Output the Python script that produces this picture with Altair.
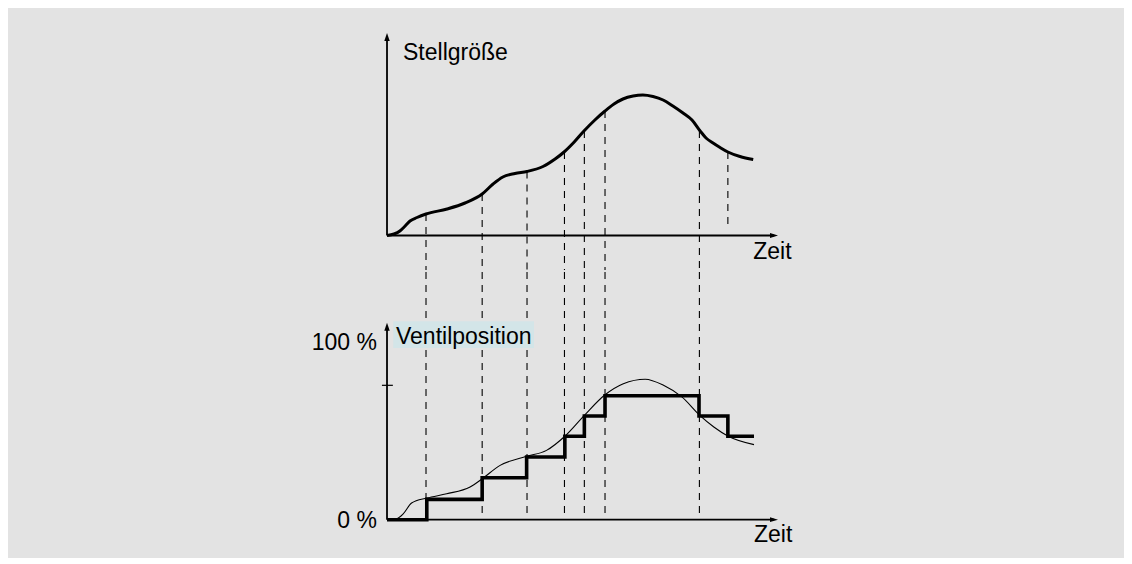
import altair as alt
import pandas as pd

# ---------------- data ----------------
# time axis in arbitrary units (0 = origin, ~100 = arrow tip)
# top panel: Stellgröße (control variable) curve
TOP_T = [0, 1.8, 3.3, 4.4, 5.9, 7.7, 10.0, 15.4, 20.0, 24.4, 27.2, 29.7, 32.8, 35.9,
         40.0, 43.1, 45.4, 48.0, 50.5, 53.3, 55.9, 58.2, 60.5, 63.1, 65.6, 68.2, 70.8,
         73.3, 75.9, 78.2, 80.3, 81.8, 83.6, 85.4, 87.4, 90.5, 93.9]
TOP_S = [0, 0.75, 2.25, 4.25, 7.25, 9.0, 10.75, 13.25, 16.25, 20.75, 25.75, 29.25, 31.0, 32.0,
         34.5, 38.25, 41.75, 46.75, 52.25, 57.75, 62.25, 65.75, 68.25, 69.75, 70.25, 69.5, 67.75,
         64.75, 61.25, 57.75, 52.25, 48.75, 46.25, 44.0, 41.75, 39.5, 38.0]

# bottom panel: thin reference curve (percent)
BOT_T = [0, 2.5, 4.2, 6.3, 10.2, 15.3, 21.3, 24.4, 29.0, 35.8, 40.9, 45.6, 50.6, 55.9,
         60.6, 66.2, 70.9, 75.6, 80.2, 83.8, 87.5, 94.1]
BOT_V = [0, 0.6, 3.4, 9.3, 12.1, 14.5, 18.3, 22.9, 30.4, 35.5, 38.8, 46.7, 58.4, 69.9,
         76.1, 78.6, 75.2, 68.7, 58.4, 51.9, 46.7, 42.0]

# bottom panel: valve position steps (percent)
STEP_T = [0, 10.2, 24.4, 35.8, 45.6, 50.6, 55.9, 80.0, 87.4, 94.1]
STEP_V = [0, 11.4, 23.5, 35.1, 46.7, 58.0, 69.4, 58.0, 46.7, 46.7]

# dashed sampling lines
DASH_T = [10.0, 24.4, 35.9, 45.5, 50.6, 55.9, 80.1, 87.4]
DASH_S_START = [10.75, 20.75, 32.0, 41.75, 52.25, 62.25, 52.25, 41.75]
DASH_S_END = [None, None, None, None, None, None, None, 4.4]   # None = continues to lower panel

# axes extents
TOP_X_END, TOP_Y_END = 100.26, 101.25
BOT_X_END, BOT_Y_END = 100.26, 110.2
BOT_TICK_V = 75.2

# labels
TOP_LABELS = ["Stellgröße", "Zeit"]
TOP_LABELS_T = [4.1, 93.9]
TOP_LABELS_S = [88.0, -11.9]
BOT_LABELS = ["Ventilposition", "Zeit"]
BOT_LABELS_T = [2.3, 94.1]
BOT_LABELS_V = [98.5, -12.5]
BOT_YLABELS = ["100 %", "0 %"]
BOT_YLABELS_T = [-2.6, -2.6]
BOT_YLABELS_V = [95.1, -4.5]
HILITE_T = [1.6, 37.7]
HILITE_V = [96.1, 111.0]

# ---------------- layout ----------------
W = 1116
TOP_H, BOT_H = 262, 286
X_DOM = [-97.18, 188.97]
TOP_DOM = [-17.25, 113.75]
BOT_DOM = [-21.43, 138.61]
PX_PER_T = W / (X_DOM[1] - X_DOM[0])
PX_PER_S = TOP_H / (TOP_DOM[1] - TOP_DOM[0])
PX_PER_V = BOT_H / (BOT_DOM[1] - BOT_DOM[0])

FONT = "Liberation Sans"
FS = 23
ARROW = 64  # symbol area -> 8px box
HEAD = 4.0  # px from centre to tip
UP = "M0,-1L0.68,1L-0.68,1Z"
RIGHT = "M1,0L-1,0.6L-1,-0.6Z"

xs = alt.Scale(domain=X_DOM, nice=False, zero=False)
ys_top = alt.Scale(domain=TOP_DOM, nice=False, zero=False)
ys_bot = alt.Scale(domain=BOT_DOM, nice=False, zero=False)


def X(f="t"):
    return alt.X(f"{f}:Q", scale=xs, axis=None)


# ---------------- top panel ----------------
top_curve = alt.Chart(pd.DataFrame({"t": TOP_T, "s": TOP_S})).mark_line(
    color="black", strokeWidth=3, interpolate="monotone").encode(
    x=X(), y=alt.Y("s:Q", scale=ys_top, axis=None))

dash_top = pd.DataFrame({
    "t": DASH_T, "s": DASH_S_START,
    "s2": [TOP_DOM[0] if e is None else e for e in DASH_S_END]})
top_dash = alt.Chart(dash_top).mark_rule(
    color="black", strokeWidth=1.1, strokeDash=[7, 6]).encode(
    x=X(), y=alt.Y("s:Q", scale=ys_top, axis=None), y2="s2:Q")

top_axes_df = pd.DataFrame({"t": [0, 0], "t2": [0, TOP_X_END - 1], "s": [0, 0], "s2": [TOP_Y_END - 2, 0]})
top_axes = alt.Chart(top_axes_df).mark_rule(color="black", strokeWidth=1.8).encode(
    x=X(), x2="t2:Q", y=alt.Y("s:Q", scale=ys_top, axis=None), y2="s2:Q")

top_up = alt.Chart(pd.DataFrame({"t": [0], "s": [TOP_Y_END - HEAD / PX_PER_S]})).mark_point(
    shape=UP, filled=True, color="black", size=ARROW, opacity=1, strokeWidth=0).encode(
    x=X(), y=alt.Y("s:Q", scale=ys_top, axis=None))
top_right = alt.Chart(pd.DataFrame({"t": [TOP_X_END - HEAD / PX_PER_T], "s": [0]})).mark_point(
    shape=RIGHT, filled=True, color="black", size=ARROW, opacity=1, strokeWidth=0).encode(
    x=X(), y=alt.Y("s:Q", scale=ys_top, axis=None))

top_text = alt.Chart(pd.DataFrame({"label": TOP_LABELS, "t": TOP_LABELS_T, "s": TOP_LABELS_S})).mark_text(
    align="left", baseline="alphabetic", font=FONT, fontSize=FS, color="black").encode(
    x=X(), y=alt.Y("s:Q", scale=ys_top, axis=None), text="label:N")

top = alt.layer(top_dash, top_axes, top_up, top_right, top_curve, top_text).properties(
    width=W, height=TOP_H)

# ---------------- bottom panel ----------------
dash_bot = pd.DataFrame({"t": [t for t, e in zip(DASH_T, DASH_S_END) if e is None]})
dash_bot["v"] = BOT_DOM[1]
dash_bot["v2"] = 0
bot_dash = alt.Chart(dash_bot).mark_rule(
    color="black", strokeWidth=1.1, strokeDash=[7, 6]).encode(
    x=X(), y=alt.Y("v:Q", scale=ys_bot, axis=None), y2="v2:Q")

hilite = alt.Chart(pd.DataFrame({"t": [HILITE_T[0]], "t2": [HILITE_T[1]],
                                 "v": [HILITE_V[0]], "v2": [HILITE_V[1]]})).mark_rect(
    color="#d3e5e8", opacity=1).encode(
    x=X(), x2="t2:Q", y=alt.Y("v:Q", scale=ys_bot, axis=None), y2="v2:Q")

bot_axes_df = pd.DataFrame({"t": [0, 0, -1.3], "t2": [0, BOT_X_END - 1, 1.5],
                            "v": [0, 0, BOT_TICK_V], "v2": [BOT_Y_END - 2, 0, BOT_TICK_V],
                            "w": ["a", "a", "b"]})
bot_axes = alt.Chart(bot_axes_df).mark_rule(color="black").encode(
    x=X(), x2="t2:Q", y=alt.Y("v:Q", scale=ys_bot, axis=None), y2="v2:Q",
    strokeWidth=alt.StrokeWidth("w:N", scale=alt.Scale(domain=["a", "b"], range=[1.8, 1.2]), legend=None))

bot_up = alt.Chart(pd.DataFrame({"t": [0], "v": [BOT_Y_END - HEAD / PX_PER_V]})).mark_point(
    shape=UP, filled=True, color="black", size=ARROW, opacity=1, strokeWidth=0).encode(
    x=X(), y=alt.Y("v:Q", scale=ys_bot, axis=None))
bot_right = alt.Chart(pd.DataFrame({"t": [BOT_X_END - HEAD / PX_PER_T], "v": [0]})).mark_point(
    shape=RIGHT, filled=True, color="black", size=ARROW, opacity=1, strokeWidth=0).encode(
    x=X(), y=alt.Y("v:Q", scale=ys_bot, axis=None))

thin = alt.Chart(pd.DataFrame({"t": BOT_T, "v": BOT_V})).mark_line(
    color="black", strokeWidth=1.1, interpolate="monotone").encode(
    x=X(), y=alt.Y("v:Q", scale=ys_bot, axis=None))

steps = alt.Chart(pd.DataFrame({"t": STEP_T, "v": STEP_V})).mark_line(
    color="black", strokeWidth=3.6, interpolate="step-after").encode(
    x=X(), y=alt.Y("v:Q", scale=ys_bot, axis=None))

bot_text = alt.Chart(pd.DataFrame({"label": BOT_LABELS, "t": BOT_LABELS_T, "v": BOT_LABELS_V})).mark_text(
    align="left", baseline="alphabetic", font=FONT, fontSize=FS, color="black").encode(
    x=X(), y=alt.Y("v:Q", scale=ys_bot, axis=None), text="label:N")
bot_ytext = alt.Chart(pd.DataFrame({"label": BOT_YLABELS, "t": BOT_YLABELS_T, "v": BOT_YLABELS_V})).mark_text(
    align="right", baseline="alphabetic", font=FONT, fontSize=FS, color="black").encode(
    x=X(), y=alt.Y("v:Q", scale=ys_bot, axis=None), text="label:N")

bottom = alt.layer(bot_dash, hilite, bot_axes, bot_up, bot_right, thin, steps, bot_text, bot_ytext).properties(
    width=W, height=BOT_H)

chart = alt.vconcat(top, bottom, spacing=0).properties(
    background="#e3e3e3", padding=0).configure_view(stroke=None)

chart.save("out.html", embed_options={"renderer": "svg", "actions": False})
